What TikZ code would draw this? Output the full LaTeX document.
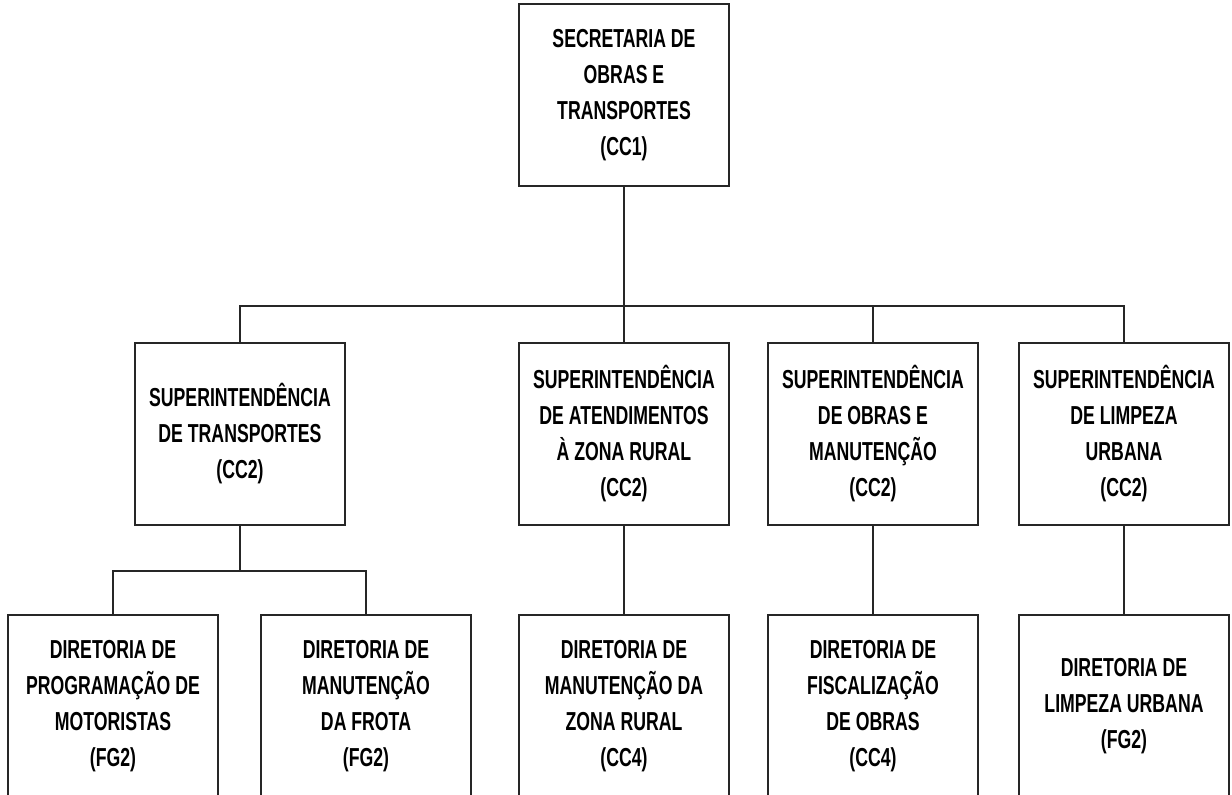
\documentclass[tikz,border=0pt]{standalone}
\usepackage{fontspec}
\setmainfont{Liberation Sans}[FakeStretch=0.68]
\begin{document}
\begin{tikzpicture}[x=0.5pt,y=-0.5pt,
  box/.style={draw=black!85, line width=1.2pt, fill=white, minimum width=105pt, minimum height=91pt,
    inner sep=0pt, align=center, font=\fontsize{13pt}{18pt}\selectfont\bfseries},
  conn/.style={draw=black!85, line width=1.1pt}]
\path[use as bounding box] (0,0) rectangle (1232,794);
\clip (0,0) rectangle (1232,794);
\coordinate (bus) at (0,306);
\coordinate (busb) at (0,571);
\node[box] (cc1) at (624,95) {SECRETARIA DE\\OBRAS E\\TRANSPORTES\\(CC1)};
\node[box] (s1) at (240,434) {SUPERINTENDÊNCIA\\DE TRANSPORTES\\(CC2)};
\node[box] (s2) at (624,434) {SUPERINTENDÊNCIA\\DE ATENDIMENTOS\\À ZONA RURAL\\(CC2)};
\node[box] (s3) at (873,434) {SUPERINTENDÊNCIA\\DE OBRAS E\\MANUTENÇÃO\\(CC2)};
\node[box] (s4) at (1124,434) {SUPERINTENDÊNCIA\\DE LIMPEZA\\URBANA\\(CC2)};
\node[box] (d1) at (113,706) {DIRETORIA DE\\PROGRAMAÇÃO DE\\MOTORISTAS\\(FG2)};
\node[box] (d2) at (366,706) {DIRETORIA DE\\MANUTENÇÃO\\DA FROTA\\(FG2)};
\node[box] (d3) at (624,706) {DIRETORIA DE\\MANUTENÇÃO DA\\ZONA RURAL\\(CC4)};
\node[box] (d4) at (873,706) {DIRETORIA DE\\FISCALIZAÇÃO\\DE OBRAS\\(CC4)};
\node[box] (d5) at (1124,706) {DIRETORIA DE\\LIMPEZA URBANA\\(FG2)};
\draw[conn] (cc1.south) -- (cc1.south |- bus);
\draw[conn] (s1.north) -- (s1.north |- bus) -- (s4.north |- bus) -- (s4.north);
\draw[conn] (s2.north) -- (s2.north |- bus);
\draw[conn] (s3.north) -- (s3.north |- bus);
\draw[conn] (s1.south) -- (s1.south |- busb);
\draw[conn] (d1.north) -- (d1.north |- busb) -- (d2.north |- busb) -- (d2.north);
\draw[conn] (s2.south) -- (d3.north);
\draw[conn] (s3.south) -- (d4.north);
\draw[conn] (s4.south) -- (d5.north);
\end{tikzpicture}
\end{document}
